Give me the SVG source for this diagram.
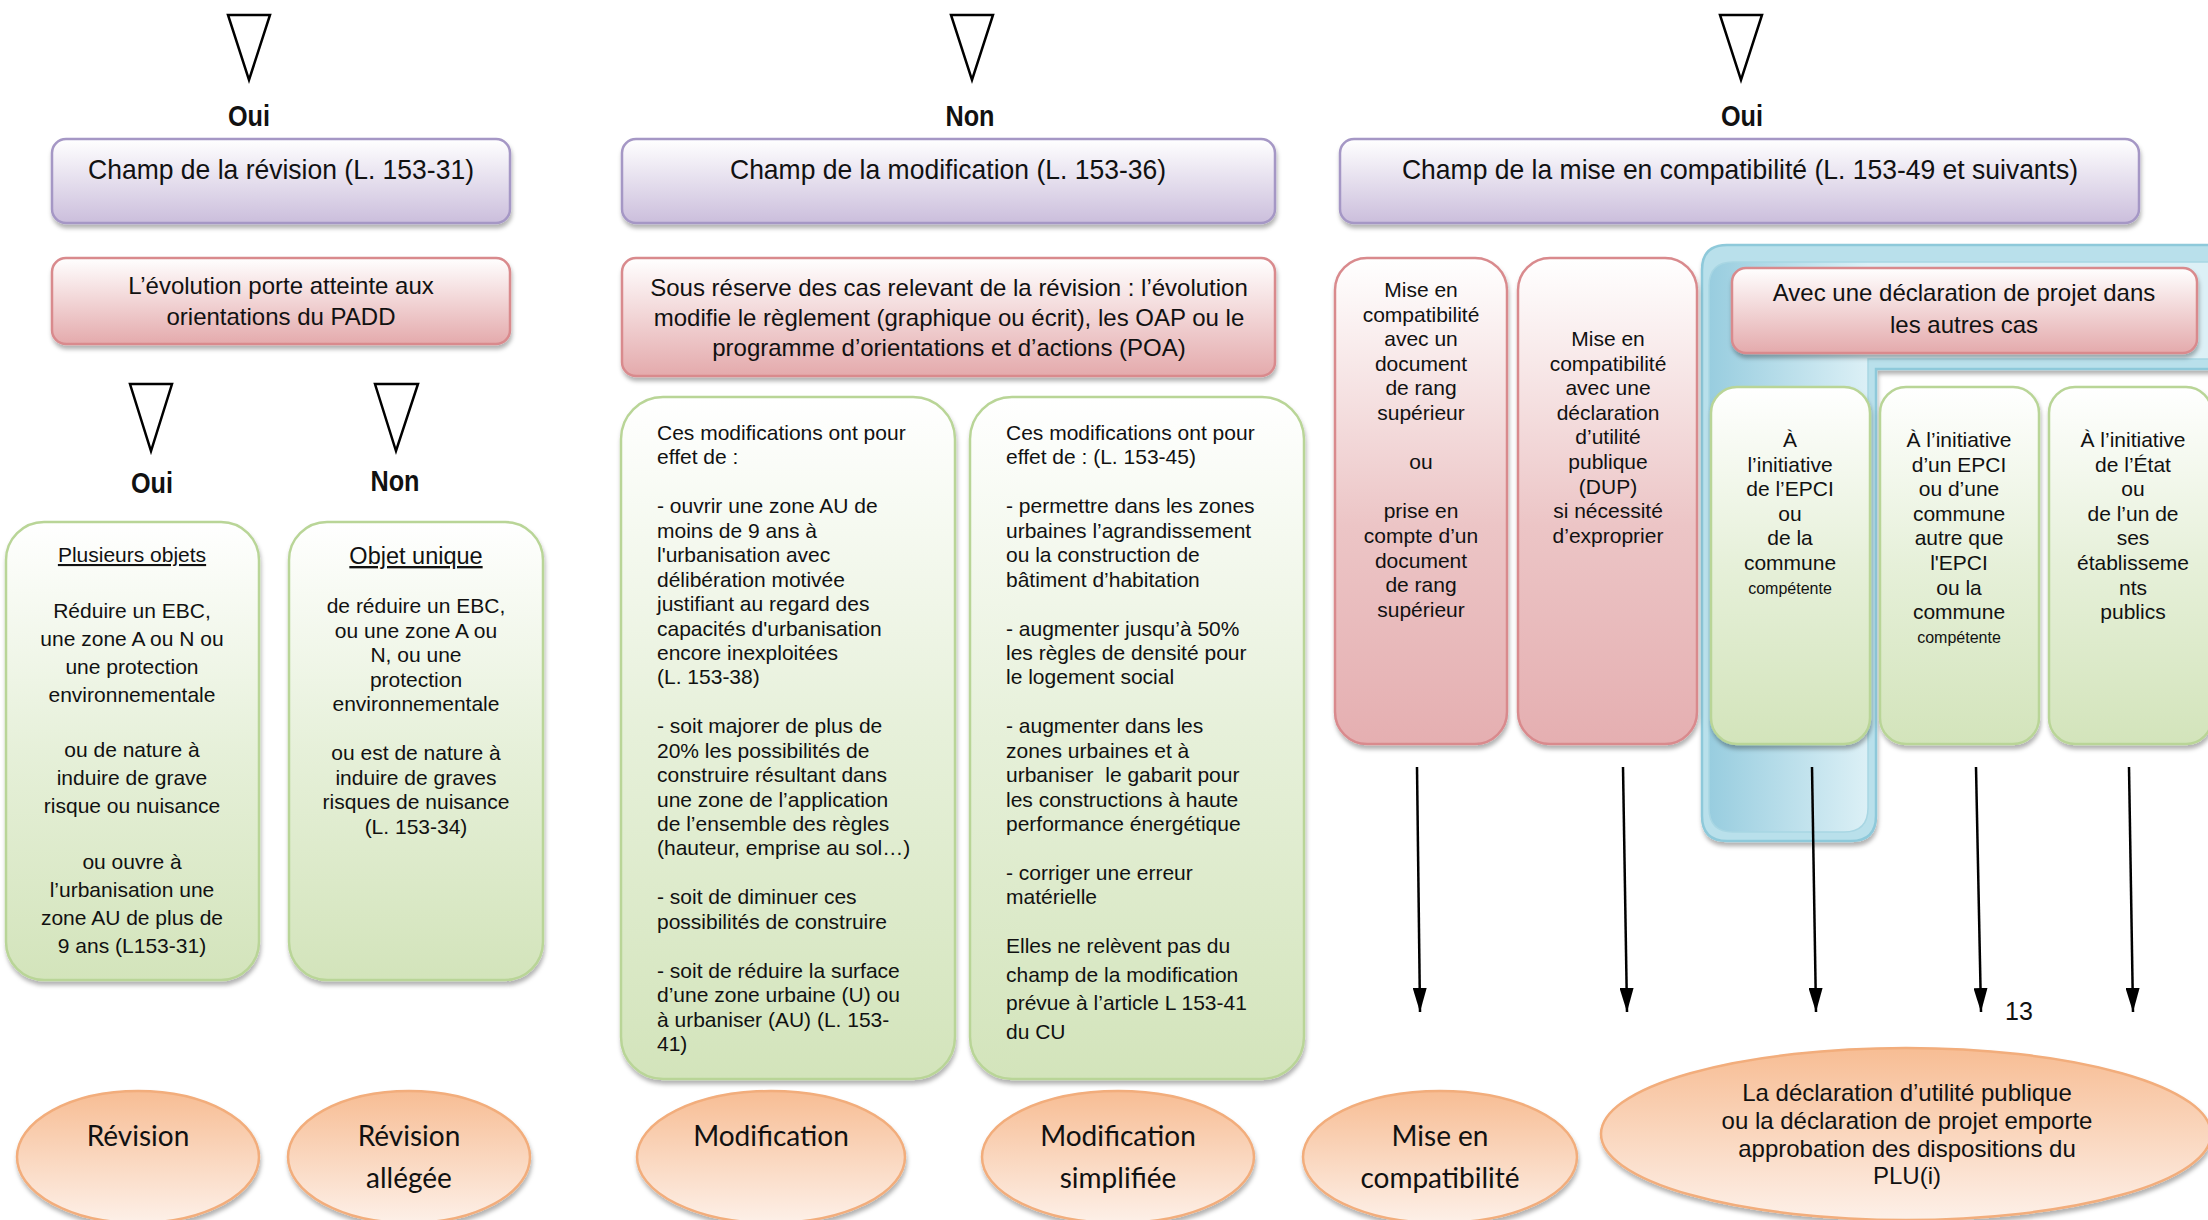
<svg xmlns="http://www.w3.org/2000/svg" width="2208" height="1220" viewBox="0 0 2208 1220">
<defs>
  <linearGradient id="gPurple" x1="0" y1="0" x2="0" y2="1"><stop offset="0" stop-color="#ffffff"/><stop offset="1" stop-color="#cbbedc"/></linearGradient>
  <linearGradient id="gRed" x1="0" y1="0" x2="0" y2="1"><stop offset="0" stop-color="#ffffff"/><stop offset="1" stop-color="#e4aaac"/></linearGradient>
  <linearGradient id="gRedTall" x1="0" y1="0" x2="0" y2="1"><stop offset="0" stop-color="#ffffff"/><stop offset="0.55" stop-color="#ecc5c6"/><stop offset="1" stop-color="#e5afb1"/></linearGradient>
  <linearGradient id="gGreen" x1="0" y1="0" x2="0" y2="1"><stop offset="0" stop-color="#ffffff"/><stop offset="0.5" stop-color="#e6f0d9"/><stop offset="1" stop-color="#d3e4bb"/></linearGradient>
  <linearGradient id="gOrange" x1="0" y1="0" x2="0" y2="1"><stop offset="0" stop-color="#f7bd94"/><stop offset="1" stop-color="#fdf0e8"/></linearGradient>
  <linearGradient id="gBlue" gradientUnits="userSpaceOnUse" x1="1709" y1="0" x2="1868" y2="0"><stop offset="0" stop-color="#98cddf"/><stop offset="1" stop-color="#dcf0f6"/></linearGradient>
  <filter id="sh" x="-10%" y="-10%" width="125%" height="130%"><feDropShadow dx="1" dy="4" stdDeviation="2" flood-color="#000" flood-opacity="0.3"/></filter>
  <marker id="arr" markerUnits="userSpaceOnUse" markerWidth="24" markerHeight="14" refX="24" refY="7" orient="auto"><path d="M0,0 L24,7 L0,14 z" fill="#000"/></marker>
  <style>
    text{font-family:"Liberation Sans",Arial,sans-serif;fill:#111;}
    .hdr{font-size:28.5px;text-anchor:middle;}
    .red{font-size:24px;text-anchor:middle;}
    .body{font-size:21px;}
    .c{text-anchor:middle;}
    .small{font-size:16px;}
    .yn{font-size:29px;font-weight:bold;text-anchor:middle;}
    .ell{font-family:Lato,"Liberation Sans",sans-serif;font-size:28px;text-anchor:middle;}
    .big{font-size:24px;text-anchor:middle;}
    .pBox{fill:url(#gPurple);stroke:#a597c5;stroke-width:2.5;filter:url(#sh);}
    .rBox{fill:url(#gRed);stroke:#d98a8d;stroke-width:2.5;filter:url(#sh);}
    .rTall{fill:url(#gRedTall);stroke:#d98a8d;stroke-width:2.5;filter:url(#sh);}
    .gBox{fill:url(#gGreen);stroke:#b9d597;stroke-width:2.5;filter:url(#sh);}
    .oEll{fill:url(#gOrange);stroke:#f2ad7b;stroke-width:2.5;filter:url(#sh);}
    .tri{fill:#fff;stroke:#000;stroke-width:2.5;stroke-linejoin:miter;}
    .arrow{stroke:#000;stroke-width:2.5;fill:none;marker-end:url(#arr);}
  </style>
</defs>
<rect width="2208" height="1220" fill="#ffffff"/>

<!-- decision triangles -->
<g id="dec-top-1"><polygon class="tri" points="228,15 270,15 249,80"/><text class="yn" transform="translate(249,126) scale(0.87,1)">Oui</text></g>
<g id="dec-top-2"><polygon class="tri" points="951,15 993,15 972,80"/><text class="yn" transform="translate(970,126) scale(0.87,1)">Non</text></g>
<g id="dec-top-3"><polygon class="tri" points="1720,15 1762,15 1741,80"/><text class="yn" transform="translate(1742,126) scale(0.87,1)">Oui</text></g>
<g id="dec-mid-1"><polygon class="tri" points="130,384 172,384 151,451"/><text class="yn" transform="translate(152,493) scale(0.87,1)">Oui</text></g>
<g id="dec-mid-2"><polygon class="tri" points="375,384 418,384 396,451"/><text class="yn" transform="translate(395,491) scale(0.87,1)">Non</text></g>

<!-- headers -->
<g id="champ-revision"><rect class="pBox" x="52" y="139" width="458" height="84" rx="14"/><text class="hdr" transform="translate(281,179) scale(0.93,1)">Champ de la révision (L. 153-31)</text></g>
<g id="champ-modification"><rect class="pBox" x="622" y="139" width="653" height="84" rx="14"/><text class="hdr" transform="translate(948,179) scale(0.93,1)">Champ de la modification (L. 153-36)</text></g>
<g id="champ-compat"><rect class="pBox" x="1340" y="139" width="799" height="84" rx="14"/><text class="hdr" transform="translate(1740,179) scale(0.93,1)">Champ de la mise en compatibilité (L. 153-49 et suivants)</text></g>

<!-- red conditions -->
<g id="cond-padd"><rect class="rBox" x="52" y="258" width="458" height="86" rx="14"/>
<text class="red" x="281" y="294">L’évolution porte atteinte aux</text><text class="red" x="281" y="325">orientations du PADD</text></g>
<g id="cond-modif"><rect class="rBox" x="622" y="258" width="653" height="118" rx="14"/>
<text class="red" x="949" y="296">Sous réserve des cas relevant de la révision : l’évolution</text>
<text class="red" x="949" y="326">modifie le règlement (graphique ou écrit), les OAP ou le</text>
<text class="red" x="949" y="356">programme d’orientations et d’actions (POA)</text></g>

<!-- blue container -->
<g id="blue-group">
<path d="M1727,245 H2240 V369 H1876 V816 Q1876,841 1851,841 H1727 Q1702,841 1702,816 V270 Q1702,245 1727,245 Z" fill="#b9e0eb" stroke="#8ec9da" stroke-width="2.5" filter="url(#sh)"/>
<path d="M1733,262 H2240 V359 H1868 V808 Q1868,832 1844,832 H1733 Q1709,832 1709,808 V286 Q1709,262 1733,262 Z" fill="url(#gBlue)" stroke="#a8d6e3" stroke-width="1.5"/>
</g>

<g id="rang-sup"><rect class="rTall" x="1335" y="258" width="172" height="486" rx="32"/>
<text class="body c" x="1421" y="297"><tspan x="1421">Mise en</tspan><tspan x="1421" dy="24.6">compatibilité</tspan><tspan x="1421" dy="24.6">avec un</tspan><tspan x="1421" dy="24.6">document</tspan><tspan x="1421" dy="24.6">de rang</tspan><tspan x="1421" dy="24.6">supérieur</tspan><tspan x="1421" dy="49.2">ou</tspan><tspan x="1421" dy="49.2">prise en</tspan><tspan x="1421" dy="24.6">compte d’un</tspan><tspan x="1421" dy="24.6">document</tspan><tspan x="1421" dy="24.6">de rang</tspan><tspan x="1421" dy="24.6">supérieur</tspan></text></g>

<g id="dup"><rect class="rTall" x="1518" y="258" width="179" height="486" rx="32"/>
<text class="body c" x="1608" y="346"><tspan x="1608">Mise en</tspan><tspan x="1608" dy="24.6">compatibilité</tspan><tspan x="1608" dy="24.6">avec une</tspan><tspan x="1608" dy="24.6">déclaration</tspan><tspan x="1608" dy="24.6">d’utilité</tspan><tspan x="1608" dy="24.6">publique</tspan><tspan x="1608" dy="24.6">(DUP)</tspan><tspan x="1608" dy="24.6">si nécessité</tspan><tspan x="1608" dy="24.6">d’exproprier</tspan></text></g>

<g id="decl-projet"><rect class="rBox" x="1732" y="268" width="465" height="85" rx="14"/>
<text class="red" x="1964" y="301">Avec une déclaration de projet dans</text><text class="red" x="1964" y="333">les autres cas</text></g>

<!-- green boxes -->
<g id="plusieurs-objets"><rect class="gBox" x="6" y="522" width="253" height="458" rx="38"/>
<text class="body c" x="132" y="562"><tspan x="132" text-decoration="underline">Plusieurs objets</tspan><tspan x="132" dy="56">Réduire un EBC,</tspan><tspan x="132" dy="28">une zone A ou N ou</tspan><tspan x="132" dy="28">une protection</tspan><tspan x="132" dy="28">environnementale</tspan><tspan x="132" dy="55">ou de nature à</tspan><tspan x="132" dy="28">induire de grave</tspan><tspan x="132" dy="28">risque ou nuisance</tspan><tspan x="132" dy="56">ou ouvre à</tspan><tspan x="132" dy="28">l’urbanisation une</tspan><tspan x="132" dy="28">zone AU de plus de</tspan><tspan x="132" dy="28">9 ans (L153-31)</tspan></text></g>

<g id="objet-unique"><rect class="gBox" x="289" y="522" width="254" height="458" rx="38"/>
<text class="c" x="416" y="564" font-size="23.5" text-decoration="underline">Objet unique</text>
<text class="body c" x="416" y="613"><tspan x="416">de réduire un EBC,</tspan><tspan x="416" dy="24.5">ou une zone A ou</tspan><tspan x="416" dy="24.5">N, ou une</tspan><tspan x="416" dy="24.5">protection</tspan><tspan x="416" dy="24.5">environnementale</tspan><tspan x="416" dy="49">ou est de nature à</tspan><tspan x="416" dy="24.5">induire de graves</tspan><tspan x="416" dy="24.5">risques de nuisance</tspan><tspan x="416" dy="24.5">(L. 153-34)</tspan></text></g>

<g id="effets-modification"><rect class="gBox" x="621" y="397" width="334" height="682" rx="42"/>
<text class="body" x="657" y="440"><tspan x="657">Ces modifications ont pour</tspan><tspan x="657" dy="24.44">effet de :</tspan><tspan x="657" dy="48.88">- ouvrir une zone AU de</tspan><tspan x="657" dy="24.44">moins de 9 ans à</tspan><tspan x="657" dy="24.44">l'urbanisation avec</tspan><tspan x="657" dy="24.44">délibération motivée</tspan><tspan x="657" dy="24.44">justifiant au regard des</tspan><tspan x="657" dy="24.44">capacités d'urbanisation</tspan><tspan x="657" dy="24.44">encore inexploitées</tspan><tspan x="657" dy="24.44">(L. 153-38)</tspan><tspan x="657" dy="48.88">- soit majorer de plus de</tspan><tspan x="657" dy="24.44">20% les possibilités de</tspan><tspan x="657" dy="24.44">construire résultant dans</tspan><tspan x="657" dy="24.44">une zone de l’application</tspan><tspan x="657" dy="24.44">de l’ensemble des règles</tspan><tspan x="657" dy="24.44">(hauteur, emprise au sol…)</tspan><tspan x="657" dy="48.88">- soit de diminuer ces</tspan><tspan x="657" dy="24.44">possibilités de construire</tspan><tspan x="657" dy="48.88">- soit de réduire la surface</tspan><tspan x="657" dy="24.44">d’une zone urbaine (U) ou</tspan><tspan x="657" dy="24.44">à urbaniser (AU) (L. 153-</tspan><tspan x="657" dy="24.44">41)</tspan></text></g>

<g id="effets-simplifiee"><rect class="gBox" x="970" y="397" width="334" height="682" rx="42"/>
<text class="body" x="1006" y="440"><tspan x="1006">Ces modifications ont pour</tspan><tspan x="1006" dy="24.44">effet de : (L. 153-45)</tspan><tspan x="1006" dy="48.88">- permettre dans les zones</tspan><tspan x="1006" dy="24.44">urbaines l’agrandissement</tspan><tspan x="1006" dy="24.44">ou la construction de</tspan><tspan x="1006" dy="24.44">bâtiment d’habitation</tspan><tspan x="1006" dy="48.88">- augmenter jusqu’à 50%</tspan><tspan x="1006" dy="24.44">les règles de densité pour</tspan><tspan x="1006" dy="24.44">le logement social</tspan><tspan x="1006" dy="48.88">- augmenter dans les</tspan><tspan x="1006" dy="24.44">zones urbaines et à</tspan><tspan x="1006" dy="24.44" xml:space="preserve">urbaniser  le gabarit pour</tspan><tspan x="1006" dy="24.44">les constructions à haute</tspan><tspan x="1006" dy="24.44">performance énergétique</tspan><tspan x="1006" dy="48.88">- corriger une erreur</tspan><tspan x="1006" dy="24.44">matérielle</tspan><tspan x="1006" dy="49">Elles ne relèvent pas du</tspan><tspan x="1006" dy="28.5">champ de la modification</tspan><tspan x="1006" dy="28.5">prévue à l’article L 153-41</tspan><tspan x="1006" dy="28.5">du CU</tspan></text></g>

<g id="init-epci"><rect class="gBox" x="1711" y="387" width="159" height="357" rx="26"/>
<text class="body c" x="1790" y="447"><tspan x="1790">À</tspan><tspan x="1790" dy="24.6">l’initiative</tspan><tspan x="1790" dy="24.6">de l’EPCI</tspan><tspan x="1790" dy="24.6">ou</tspan><tspan x="1790" dy="24.6">de la</tspan><tspan x="1790" dy="24.6">commune</tspan><tspan x="1790" dy="23.6" class="small">compétente</tspan></text></g>

<g id="init-autre"><rect class="gBox" x="1880" y="387" width="159" height="357" rx="26"/>
<text class="body c" x="1959" y="447"><tspan x="1959">À l’initiative</tspan><tspan x="1959" dy="24.6">d’un EPCI</tspan><tspan x="1959" dy="24.6">ou d’une</tspan><tspan x="1959" dy="24.6">commune</tspan><tspan x="1959" dy="24.6">autre que</tspan><tspan x="1959" dy="24.6">l'EPCI</tspan><tspan x="1959" dy="24.6">ou la</tspan><tspan x="1959" dy="24.6">commune</tspan><tspan x="1959" dy="23.6" class="small">compétente</tspan></text></g>

<g id="init-etat"><rect class="gBox" x="2049" y="387" width="163" height="357" rx="26"/>
<text class="body c" x="2133" y="447"><tspan x="2133">À l’initiative</tspan><tspan x="2133" dy="24.6">de l’État</tspan><tspan x="2133" dy="24.6">ou</tspan><tspan x="2133" dy="24.6">de l’un de</tspan><tspan x="2133" dy="24.6">ses</tspan><tspan x="2133" dy="24.6">établisseme</tspan><tspan x="2133" dy="24.6">nts</tspan><tspan x="2133" dy="24.6">publics</tspan></text></g>

<!-- connectors -->
<g id="connectors">
<line class="arrow" x1="1417" y1="767" x2="1420" y2="1012"/>
<line class="arrow" x1="1623" y1="767" x2="1627" y2="1012"/>
<line class="arrow" x1="1812" y1="767" x2="1816" y2="1012"/>
<line class="arrow" x1="1976" y1="767" x2="1981" y2="1012"/>
<line class="arrow" x1="2129" y1="767" x2="2133" y2="1012"/>
</g>
<text x="2005" y="1020" font-family="Lato, 'Liberation Sans', sans-serif" font-size="25">13</text>

<!-- outcomes -->
<g id="out-revision"><ellipse class="oEll" cx="138" cy="1157" rx="121" ry="66"/><text class="ell" x="138" y="1146">Révision</text></g>
<g id="out-revision-allegee"><ellipse class="oEll" cx="409" cy="1157" rx="121" ry="66"/><text class="ell" x="409" y="1146">Révision</text><text class="ell" x="409" y="1188">allégée</text></g>
<g id="out-modification"><ellipse class="oEll" cx="771" cy="1157" rx="134" ry="66"/><text class="ell" x="771" y="1146">Modification</text></g>
<g id="out-modif-simplifiee"><ellipse class="oEll" cx="1118" cy="1157" rx="136" ry="66"/><text class="ell" x="1118" y="1146">Modification</text><text class="ell" x="1118" y="1188">simplifiée</text></g>
<g id="out-mise-compat"><ellipse class="oEll" cx="1440" cy="1157" rx="137" ry="66"/><text class="ell" x="1440" y="1146">Mise en</text><text class="ell" x="1440" y="1188">compatibilité</text></g>
<g id="out-approbation"><ellipse class="oEll" cx="1906" cy="1134" rx="305" ry="86"/>
<text class="big" x="1907" y="1101">La déclaration d’utilité publique</text><text class="big" x="1907" y="1129">ou la déclaration de projet emporte</text><text class="big" x="1907" y="1157">approbation des dispositions du</text><text class="big" x="1907" y="1184">PLU(i)</text></g>
</svg>
